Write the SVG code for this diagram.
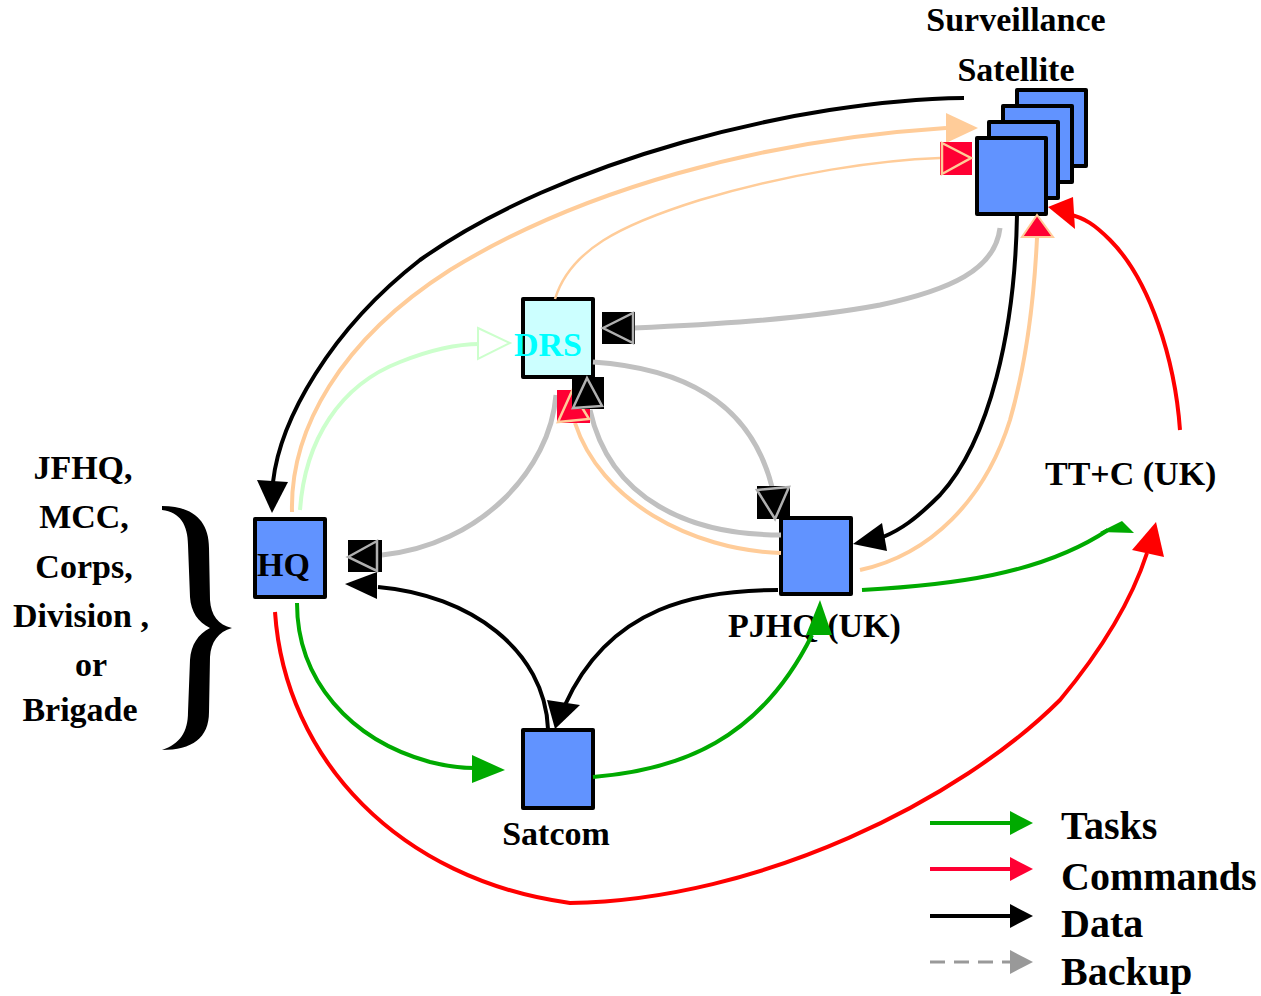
<svg xmlns="http://www.w3.org/2000/svg" width="1261" height="996" viewBox="0 0 1261 996">
<style>
.t{font-family:"Liberation Serif","Times New Roman",serif;font-weight:bold;font-size:34px;fill:#000}
.lg{font-size:40px}
.box{fill:#6193FF;stroke:#000;stroke-width:4;stroke-linejoin:round}
.c{fill:none;stroke-linecap:butt}
.blk{stroke:#000;stroke-width:4}
.org{stroke:#FFCC99;stroke-width:4}
.orgt{stroke:#FFCC99;stroke-width:2.5}
.lgr{stroke:#CCFFCC;stroke-width:4}
.gry{stroke:#C0C0C0;stroke-width:5}
.red{stroke:#FF0000;stroke-width:4}
.grn{stroke:#00AA00;stroke-width:4}
.mk{fill:#000}
.mtri{fill:none;stroke:#B0B0B0;stroke-width:2.5}
.rsq{fill:#FF0033}
.ttri{fill:none;stroke:#FFCC99;stroke-width:2.5}
</style>
<rect width="1261" height="996" fill="#fff"/>

<g id="satellite">
<rect class="box" x="1017" y="90" width="69" height="76"/>
<rect class="box" x="1003" y="106" width="69" height="76"/>
<rect class="box" x="989" y="122" width="69" height="76"/>
<rect class="box" x="977" y="138" width="69" height="76"/>
<text class="t" x="1016" y="31" text-anchor="middle">Surveillance</text>
<text class="t" x="1016" y="81" text-anchor="middle">Satellite</text>
</g>

<g id="drs">
<rect x="523" y="299" width="70" height="78" fill="#CCFFFF" stroke="#000" stroke-width="4" stroke-linejoin="round"/>
<text class="t" x="514" y="356" fill="#00FFFF" style="fill:#00FFFF">DRS</text>
</g>

<g id="hq">
<rect class="box" x="255" y="519" width="70" height="78"/>
<text class="t" x="257" y="576">HQ</text>
</g>

<g id="pjhq">
<rect class="box" x="781" y="518" width="70" height="76"/>
<text class="t" x="728" y="637">PJHQ (UK)</text>
</g>

<g id="satcom">
<rect class="box" x="523" y="730" width="70" height="78"/>
<text class="t" x="556" y="845" text-anchor="middle">Satcom</text>
</g>

<g id="ttc">
<text class="t" x="1045" y="485">TT+C (UK)</text>
</g>

<g id="echelons">
<text class="t" x="83" y="479" text-anchor="middle">JFHQ,</text>
<text class="t" x="84" y="528" text-anchor="middle">MCC,</text>
<text class="t" x="84" y="578" text-anchor="middle">Corps,</text>
<text class="t" x="81" y="627" text-anchor="middle" xml:space="preserve">Division ,</text>
<text class="t" x="91" y="676" text-anchor="middle">or</text>
<text class="t" x="80" y="721" text-anchor="middle">Brigade</text>
<path d="M162,506 C192,506 209,520 209,548 L210,600 C211,615 218,625 232,628 C218,632 211,642 210,657 L209,712 C209,738 192,750 162,750 C180,744 188,732 188,712 L190,660 C191,645 198,634 210,628 C198,622 191,612 190,597 L188,545 C188,525 180,512 162,510 Z" fill="#000"/>
</g>

<g id="connectors">
<!-- Data: satellite to HQ -->
<path class="c blk" d="M964,98 C800,100 560,160 420,260 C330,330 280,420 273,482"/>
<polygon points="257,480 288,482 272,513" fill="#000"/>
<!-- backup HQ to satellite (orange) -->
<path class="c org" d="M292,512 C290,430 340,340 450,270 C580,190 760,140 946,128"/>
<polygon points="946,113 978,128 946,143" fill="#FFCC99"/>
<!-- DRS to satellite thin orange -->
<path class="c orgt" d="M555,299 C570,250 620,225 700,200 C790,173 880,160 940,158"/>
<rect class="rsq" x="940" y="142" width="32" height="33"/>
<polygon class="ttri" points="942,143 971,158 942,174"/>
<!-- light green HQ to DRS -->
<path class="c lgr" d="M300,510 C305,440 340,385 400,362 C430,350 455,344 480,344"/>
<polygon points="478,328 510,343 478,359" fill="#fff" stroke="#CCFFCC" stroke-width="2"/>
<!-- gray satellite to DRS -->
<path class="c gry" d="M1000,228 C995,270 950,290 880,305 C800,320 700,325 634,328"/>
<rect class="mk" x="602" y="312" width="33" height="32"/>
<polygon class="mtri" points="603,328 633,313 633,343"/>
<!-- black satellite to PJHQ -->
<path class="c blk" d="M1017,215 C1015,330 990,440 940,495 C915,520 900,530 883,537"/>
<polygon points="853,544 882,523 887,551" fill="#000"/>
<!-- orange PJHQ to satellite -->
<path class="c org" d="M860,570 C930,555 985,500 1010,420 C1030,350 1035,280 1037,238"/>
<polygon points="1037,215 1022,237 1053,237" fill="#FF0033" stroke="#FFCC99" stroke-width="2"/>
<!-- red TT+C to satellite -->
<path class="c red" d="M1180,430 C1175,360 1150,280 1110,240 C1095,225 1085,218 1068,214"/>
<polygon points="1048,207 1073,197 1075,229" fill="#FF0000"/>
<!-- red HQ to TT+C -->
<path class="c red" d="M275,612 C285,760 400,880 570,903 C760,900 960,800 1060,700 C1110,640 1135,590 1147,553"/>
<polygon points="1156,522 1132,550 1164,557" fill="#FF0000"/>
<!-- green HQ to Satcom -->
<path class="c grn" d="M297,603 C297,680 350,740 430,762 C450,767 465,768 475,768"/>
<polygon points="472,755 505,770 472,783" fill="#00AA00"/>
<!-- green Satcom to PJHQ -->
<path class="c grn" d="M593,777 C680,770 760,740 812,635"/>
<polygon points="820,600 806,635 832,635" fill="#00AA00"/>
<!-- green PJHQ to TT+C -->
<path class="c grn" d="M862,590 C950,585 1040,575 1108,530"/>
<polygon points="1100,532 1122,521 1134,533" fill="#00AA00"/>
<!-- black Satcom to HQ -->
<path class="c blk" d="M548,729 C545,650 470,595 378,587"/>
<polygon points="345,584 377,572 377,599" fill="#000"/>
<!-- black PJHQ to Satcom -->
<path class="c blk" d="M778,590 C700,590 610,605 565,705"/>
<polygon points="555,729 547,700 580,705" fill="#000"/>
<!-- gray DRS to PJHQ -->
<path class="c gry" d="M593,362 C680,368 750,400 772,487"/>
<rect class="mk" x="757" y="486" width="33" height="33"/>
<polygon class="mtri" points="757,490 789,487 775,519"/>
<!-- orange PJHQ to DRS -->
<path class="c org" d="M781,553 C690,550 600,500 575,423"/>
<!-- gray PJHQ to DRS -->
<path class="c gry" d="M781,535 C690,535 610,500 590,410"/>
<!-- gray DRS to HQ -->
<path class="c gry" d="M556,395 C550,470 480,545 382,555"/>
<rect class="mk" x="348" y="540" width="34" height="32"/>
<polygon class="mtri" points="348,557 377,541 377,571"/>
<!-- DRS bottom markers -->
<rect class="rsq" x="557" y="390" width="33" height="33"/>
<polygon class="ttri" points="558,422 572,391 589,419"/>
<rect class="mk" x="572" y="377" width="32" height="32"/>
<polygon class="mtri" points="587,378 573,408 602,406"/>
</g>

<g id="legend">
<line x1="930" y1="823" x2="1010" y2="823" stroke="#00AA00" stroke-width="4"/>
<polygon points="1010,811 1033,823 1010,835" fill="#00AA00"/>
<line x1="930" y1="869" x2="1010" y2="869" stroke="#FF0033" stroke-width="4"/>
<polygon points="1010,857 1033,869 1010,881" fill="#FF0033"/>
<line x1="930" y1="916" x2="1010" y2="916" stroke="#000" stroke-width="4"/>
<polygon points="1010,904 1033,916 1010,928" fill="#000"/>
<line x1="930" y1="962" x2="1010" y2="962" stroke="#999" stroke-width="3" stroke-dasharray="15,9"/>
<polygon points="1010,950 1033,962 1010,974" fill="#999"/>
<text class="t lg" x="1061" y="839">Tasks</text>
<text class="t lg" x="1061" y="890">Commands</text>
<text class="t lg" x="1061" y="937">Data</text>
<text class="t lg" x="1061" y="985">Backup</text>
</g>
</svg>
